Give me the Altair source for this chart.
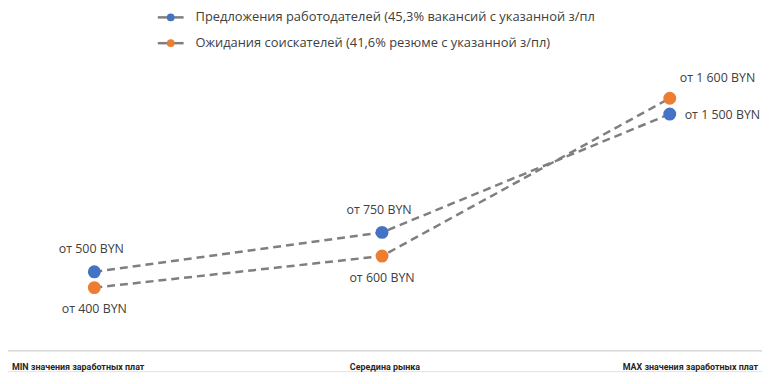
import altair as alt
import pandas as pd

categories = ["MIN значения заработных плат", "Середина рынка", "MAX значения заработных плат"]
series_names = [
    "Предложения работодателей (45,3% вакансий с указанной з/пл",
    "Ожидания соискателей (41,6% резюме с указанной з/пл)",
]
employer_values = [500, 750, 1500]
seeker_values = [400, 600, 1600]
colors = ["#4472C4", "#ED7D31"]

rows = []
for s, vals in zip(series_names, [employer_values, seeker_values]):
    for i, v in enumerate(vals):
        rows.append({"i": i, "cat": categories[i], "series": s, "value": v,
                     "label": "от " + f"{v:,}".replace(",", " ") + " BYN"})
df = pd.DataFrame(rows)
cat_df = pd.DataFrame({"i": list(range(len(categories))), "cat": categories})
leg_df = pd.DataFrame({"series": series_names, "k": [0, 1]})

W, H = 752, 344
TXT = "#404040"
FONT = "Open Sans"

xs = alt.X("i:Q", scale=alt.Scale(domain=[-0.3, 2.293]), axis=None)
ys = alt.Y("value:Q", scale=alt.Scale(domain=[0, 2163]), axis=None)
col = alt.Color("series:N", scale=alt.Scale(domain=series_names, range=colors), legend=None)

base = alt.Chart(df)
lines = base.mark_line(color="#7f7f7f", strokeWidth=2.5, strokeDash=[8, 5]).encode(
    x=xs, y=ys, detail="series:N")
points = base.mark_circle(size=170, opacity=1).encode(x=xs, y=ys, color=col)

def lab(filt, **kw):
    return base.transform_filter(filt).mark_text(
        font=FONT, fontSize=12.5, color=TXT, **kw).encode(x=xs, y=ys, text="label:N")

s0, s1 = series_names
t1 = lab(f"datum.series == '{s0}' && datum.i < 2", align="center", dy=-23, dx=-3)
t2 = lab(f"datum.series == '{s1}' && datum.i < 2", align="center", dy=22)
t3 = lab(f"datum.series == '{s1}' && datum.i == 2", align="left", dx=10, dy=-20)
t4 = lab(f"datum.series == '{s0}' && datum.i == 2", align="left", dx=15, dy=1)

sep = alt.Chart(cat_df).mark_rule(color="#d9d9d9", strokeWidth=1).encode(
    y=alt.value(H), x=alt.value(0), x2=alt.value(W + 8))
bottom = alt.Chart(cat_df).mark_rule(color="#e6e6e6", strokeWidth=1).encode(
    y=alt.value(H + 21), x=alt.value(0), x2=alt.value(W + 8))

cx = alt.X("i:Q", scale=alt.Scale(domain=[-0.0106, 1.9894]), axis=None)
def cat_layer(filt, align):
    return alt.Chart(cat_df).transform_filter(filt).mark_text(
        font="Roboto", fontSize=9, fontWeight="bold", color="#262626", align=align
    ).encode(x=cx, y=alt.value(H + 16), text="cat:N")

c0 = cat_layer("datum.i == 0", "left")
c1 = cat_layer("datum.i == 1", "center")
c2 = cat_layer("datum.i == 2", "right")

leg_layers = []
for k, name in enumerate(series_names):
    d = leg_df[leg_df.k == k]
    yv = 8 + 26 * k
    leg_layers.append(alt.Chart(d).mark_rule(color="#7f7f7f", strokeWidth=2.5).encode(
        x=alt.value(151), x2=alt.value(177), y=alt.value(yv)))
    leg_layers.append(alt.Chart(d).mark_circle(size=60, opacity=1, color=colors[k]).encode(
        x=alt.value(164), y=alt.value(yv)))
    leg_layers.append(alt.Chart(d).mark_text(
        font=FONT, fontSize=13, color=TXT, align="left", baseline="middle").encode(
        x=alt.value(189), y=alt.value(yv), text="series:N"))

chart = alt.layer(
    sep, bottom, lines, points, t1, t2, t3, t4, c0, c1, c2, *leg_layers
).resolve_scale(x="independent").properties(
    width=W, height=H,
    autosize=alt.AutoSizeParams(type="none"),
    padding={"left": 0, "top": 0, "right": 8, "bottom": 22},
    background="white",
).configure_view(stroke=None)

chart.save("out.html", embed_options={"renderer": "svg", "actions": False})
